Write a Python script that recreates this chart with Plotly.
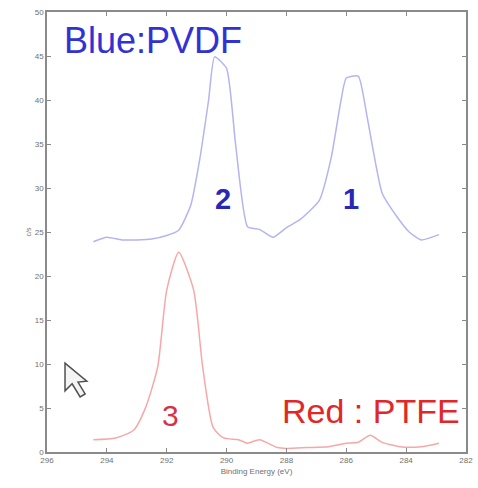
import plotly.graph_objects as go

# Blue: PVDF
pvdf_x = [294.45, 294.0, 293.5, 293.0, 292.5, 292.0, 291.6, 291.2, 290.9, 290.6, 290.4, 290.0, 289.7, 289.3, 288.9, 288.45, 288.0, 287.55, 286.9, 286.5, 286.2, 286.0, 285.6, 285.3, 284.8, 284.3, 283.9, 283.5, 282.9]
pvdf_y = [23.9, 24.4, 24.1, 24.1, 24.2, 24.6, 25.2, 28.0, 33.2, 40.0, 44.9, 43.6, 35.0, 25.6, 25.3, 24.4, 25.5, 26.4, 28.6, 33.5, 39.5, 42.5, 42.7, 38.0, 29.4, 26.7, 25.0, 24.1, 24.7]

# Red: PTFE
ptfe_x = [294.45, 293.7, 293.1, 292.7, 292.3, 292.0, 291.6, 291.1, 290.8, 290.45, 290.1, 289.6, 289.3, 288.9, 288.3, 288.0, 287.3, 286.6, 286.0, 285.6, 285.2, 284.8, 284.2, 283.5, 282.9]
ptfe_y = [1.4, 1.6, 2.5, 5.1, 9.7, 18.4, 22.7, 18.4, 9.7, 2.8, 1.6, 1.4, 1.0, 1.4, 0.5, 0.4, 0.5, 0.6, 1.0, 1.1, 1.9, 1.1, 0.6, 0.6, 1.0]

x_ticks = [296, 294, 292, 290, 288, 286, 284, 282]
y_ticks = [0, 5, 10, 15, 20, 25, 30, 35, 40, 45, 50]

fig = go.Figure()
fig.add_trace(go.Scatter(x=pvdf_x, y=pvdf_y, mode="lines",
                         line=dict(color="#b4b4f0", width=1.5, shape="spline", smoothing=0.5), showlegend=False))
fig.add_trace(go.Scatter(x=ptfe_x, y=ptfe_y, mode="lines",
                         line=dict(color="#f6a8a8", width=1.5, shape="spline", smoothing=0.6), showlegend=False))

axis_common = dict(showline=True, linecolor="#8a8a8a", linewidth=1.5, mirror="ticks",
                   ticks="inside", ticklen=4, tickcolor="#8a8a8a", showgrid=False,
                   zeroline=False, automargin=False,
                   tickfont=dict(family="Liberation Sans", size=8, color="#707070"))

fig.update_xaxes(range=[296, 282], tickvals=x_ticks, ticktext=[str(t) for t in x_ticks],
                 title=dict(text="Binding Energy (eV)", font=dict(family="Liberation Sans", size=8, color="#707070"), standoff=4),
                 **axis_common)
fig.update_yaxes(range=[0, 50], tickvals=y_ticks, ticktext=[str(t) for t in y_ticks],
                 title=dict(text="c/s", font=dict(family="Liberation Sans", size=7, color="#707070"), standoff=2),
                 **axis_common)

fig.add_annotation(x=0.035, y=0.935, xref="paper", yref="paper", text="Blue:PVDF", showarrow=False,
                   xanchor="left", yanchor="middle", font=dict(family="Liberation Sans", size=36, color="#3232d2"))
fig.add_annotation(x=0.99, y=0.093, xref="paper", yref="paper", text="Red : PTFE", showarrow=False,
                   xanchor="right", yanchor="middle", font=dict(family="Liberation Sans", size=34, color="#e02828"))
fig.add_annotation(x=290.12, y=28.8, text="<b>2</b>", showarrow=False,
                   font=dict(family="Liberation Sans", size=29, color="#2828b4"))
fig.add_annotation(x=285.85, y=28.8, text="<b>1</b>", showarrow=False,
                   font=dict(family="Liberation Sans", size=29, color="#2828b4"))
fig.add_annotation(x=291.88, y=4.1, text="3", showarrow=False,
                   font=dict(family="Liberation Sans", size=30, color="#d83048"))

# mouse cursor outline
fig.add_shape(type="path", xref="paper", yref="paper",
              path="M 0.043 0.202 L 0.043 0.139 L 0.060 0.155 L 0.079 0.125 L 0.091 0.132 L 0.074 0.159 L 0.095 0.161 Z",
              line=dict(color="#505050", width=1.5), fillcolor="#f4f4f4")

fig.update_layout(width=478, height=488, paper_bgcolor="white", plot_bgcolor="white",
                  margin=dict(l=47, r=12, t=12, b=36))
fig.write_html("out.html", config={"displayModeBar": False},
               post_script="document.body.style.margin='0';document.body.style.overflow='hidden';")
